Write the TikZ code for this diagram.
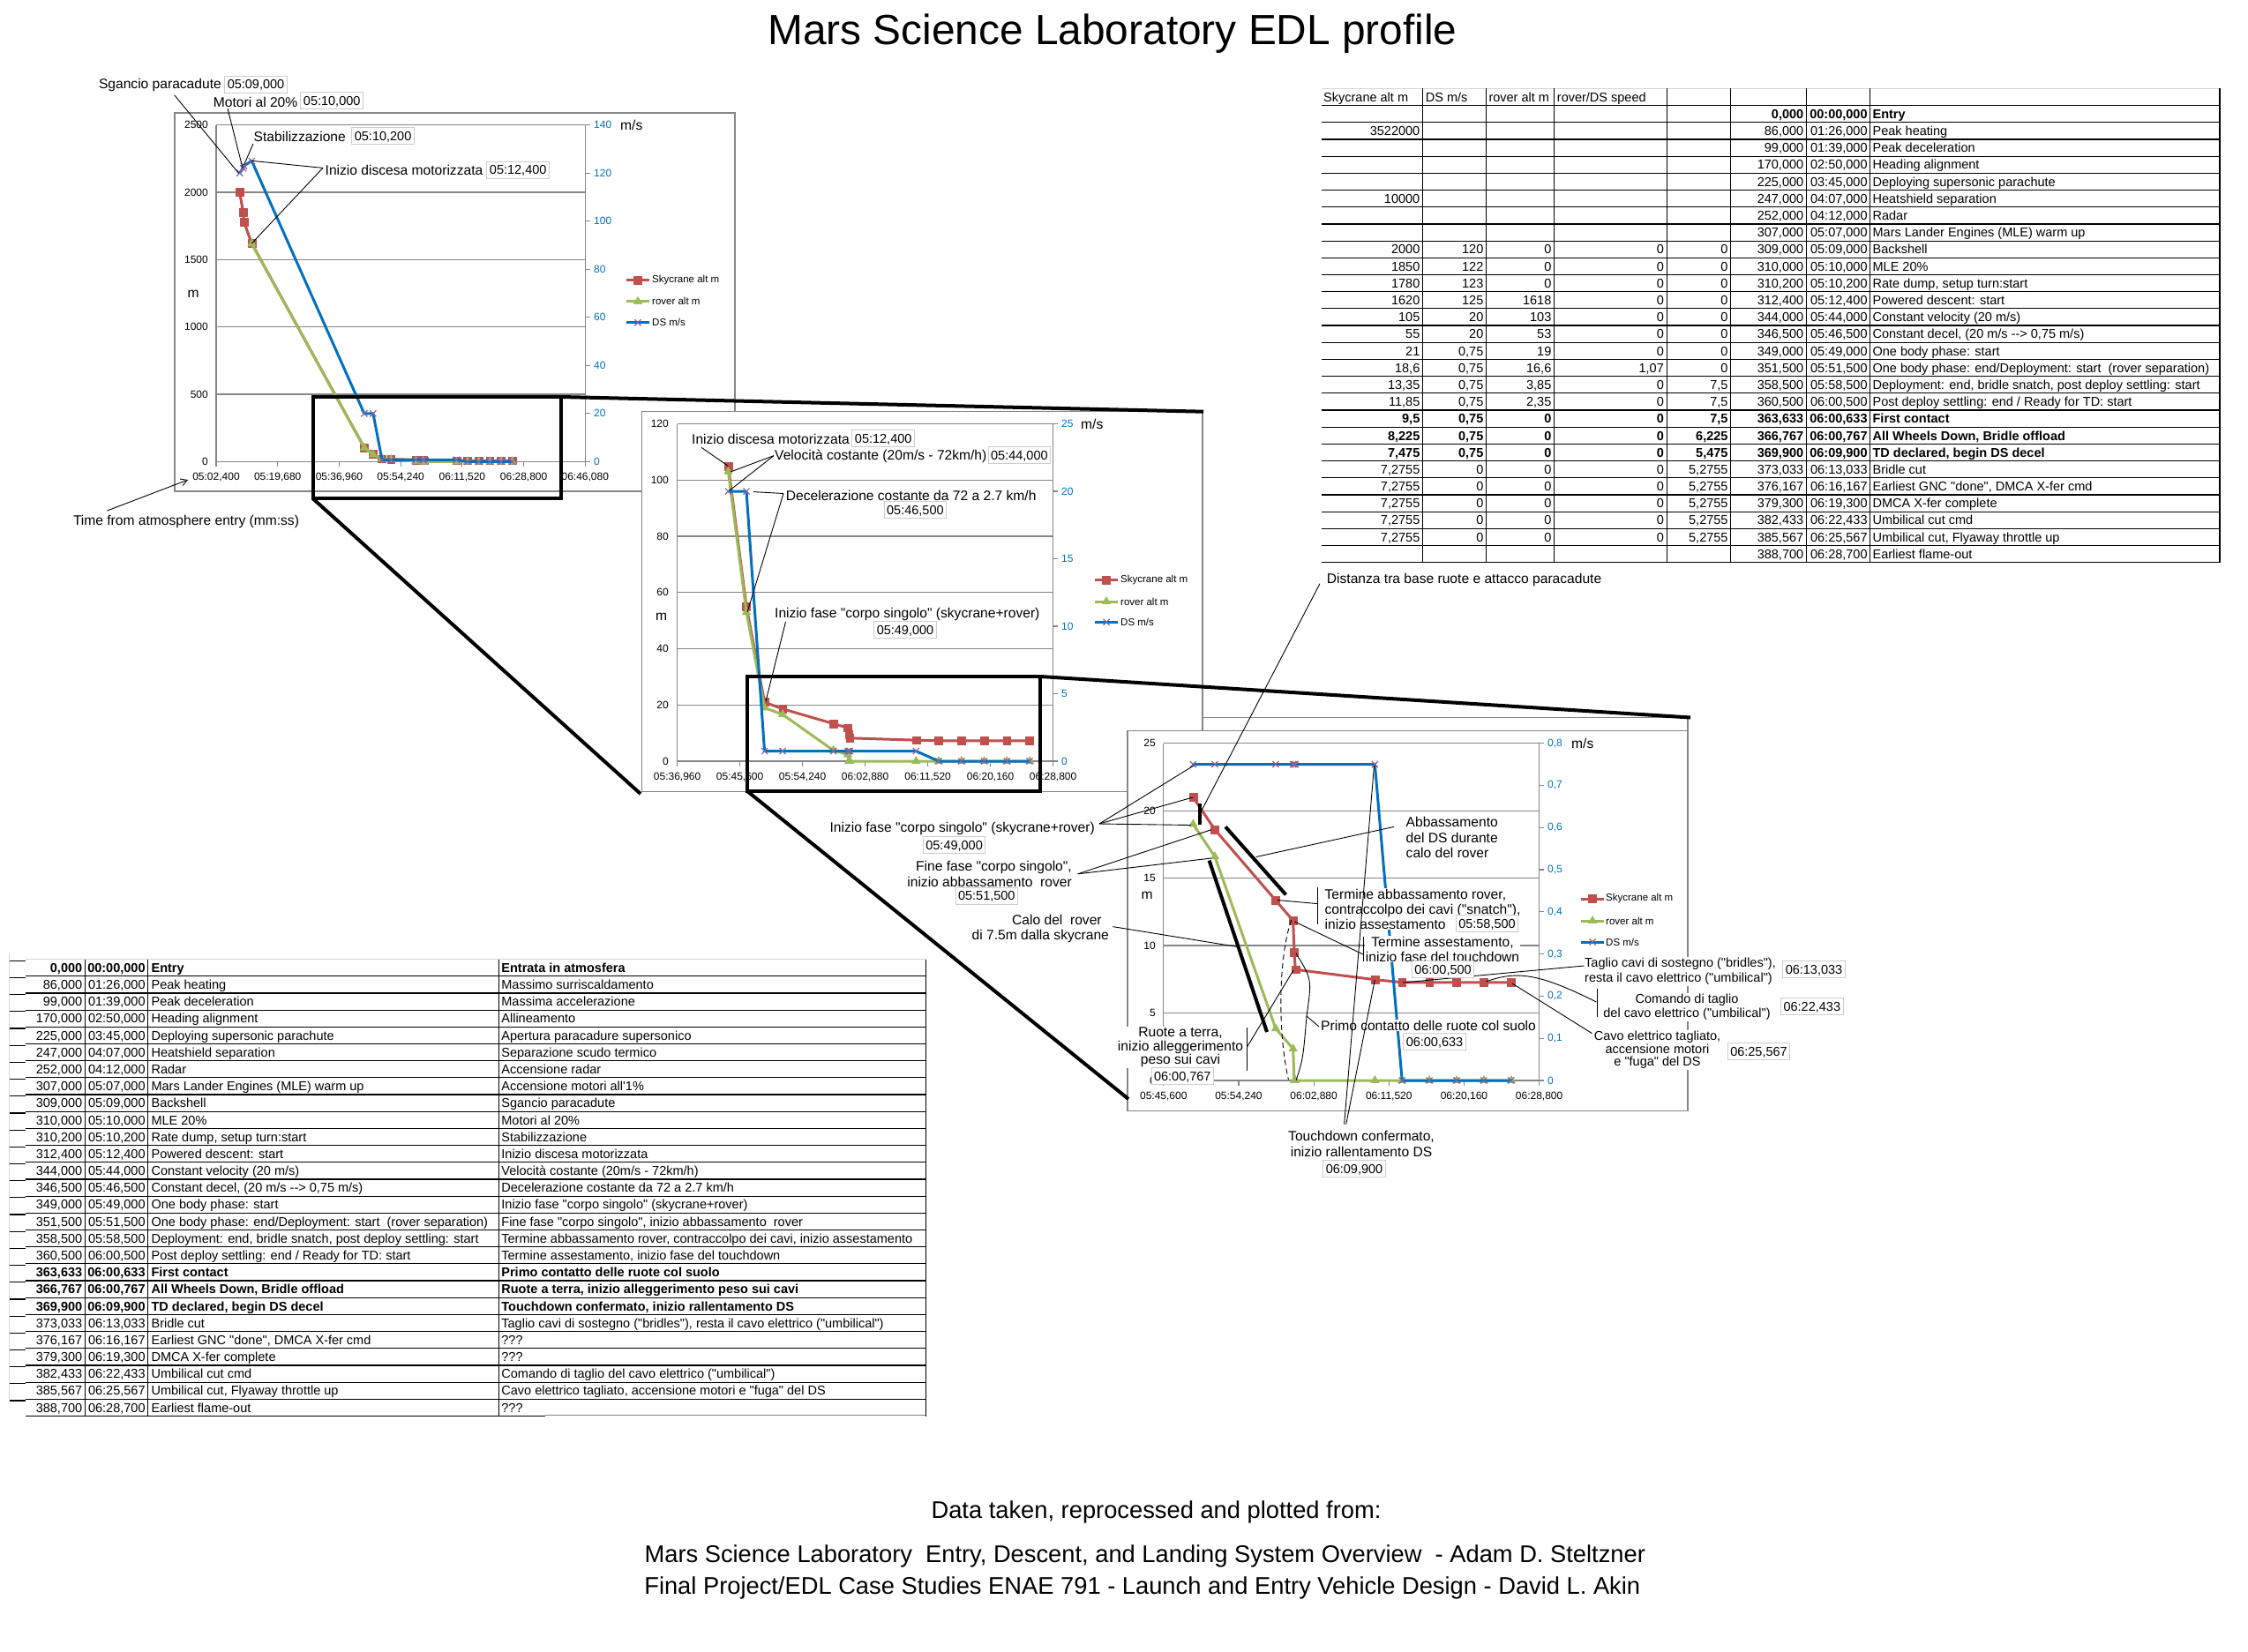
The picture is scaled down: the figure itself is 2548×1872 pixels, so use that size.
\documentclass[tikz,border=0pt]{standalone}
\usepackage{fontspec}
\newfontfamily\arial{Liberation Sans}
\usetikzlibrary{plotmarks,arrows.meta}
\definecolor{skyred}{RGB}{192,80,77}
\definecolor{rovgreen}{RGB}{155,187,89}
\definecolor{dsblue}{RGB}{0,112,192}
\definecolor{dspurple}{RGB}{128,100,162}
\definecolor{gridgray}{RGB}{134,134,134}
\definecolor{boxgray}{RGB}{205,205,205}
\definecolor{topgray}{RGB}{215,215,215}
\newcommand\Tone[9]{%
 \pgfmathsetmacro\tyy{100.4+#1*19.19+14.8}%
 \node[tn,anchor=base east] at (1609.5,\tyy) {#2};%
 \node[tn,anchor=base east] at (1681.5,\tyy) {#3};%
 \node[tn,anchor=base east] at (1758.5,\tyy) {#4};%
 \node[tn,anchor=base east] at (1886,\tyy) {#5};%
 \node[tn,anchor=base east] at (1958.7,\tyy) {#6};%
 \node[tn,anchor=base east] at (2044.4,\tyy) {#7};%
 \node[tn,anchor=base east] at (2116.8,\tyy) {#8};%
 \node[tn,anchor=base west] at (2122.4,\tyy) {#9};%
}
\newcommand\Ttwo[5]{%
 \pgfmathsetmacro\tyy{1087.6+#1*19.18+14.8}%
 \node[tn,anchor=base east] at (93.4,\tyy) {#2};%
 \node[tn,anchor=base east] at (164.8,\tyy) {#3};%
 \node[tn,anchor=base west] at (171.4,\tyy) {#4};%
 \node[tn,anchor=base west] at (568.2,\tyy) {#5};%
}
\begin{document}
\begin{tikzpicture}[x=1pt,y=-1pt,
 tn/.style={font=\arial\fontsize{14.5}{17}\selectfont,inner sep=0pt},
 tk/.style={font=\arial\fontsize{12}{14}\selectfont,inner sep=0pt},
 tkb/.style={tk,text=dsblue},
 lg/.style={font=\arial\fontsize{11.5}{13}\selectfont,inner sep=0pt,anchor=west},
 an/.style={font=\arial\fontsize{15.6}{17}\selectfont,inner sep=1pt,fill=white},
 anr/.style={font=\arial\fontsize{14.5}{17}\selectfont,inner sep=1pt,fill=white},
 axl/.style={font=\arial\fontsize{15.6}{17}\selectfont,inner sep=0pt},
 tb/.style={font=\arial\fontsize{14.5}{16}\selectfont,draw=boxgray,fill=white,line width=1pt,inner xsep=3pt,inner ysep=2pt,text height=12.7pt,text depth=2.3pt},
 gline/.style={draw=gridgray,line width=1.2pt},
 tline/.style={draw=black,line width=1.2pt},
 lead/.style={draw=black,line width=0.9pt},
 thk/.style={draw=black,line width=4pt},
 skyL/.style={draw=skyred,line width=3pt,line join=round},
 skyM/.style={mark=square*,mark size=4.4pt,mark options={solid,draw=skyred,fill=skyred,line width=0.4pt}},
 rovL/.style={draw=rovgreen,line width=3pt,line join=round},
 rovM/.style={mark=triangle*,mark size=5.5pt,mark options={solid,draw=rovgreen,fill=rovgreen,line width=0.4pt}},
 dsL/.style={draw=dsblue,line width=3pt,line join=round},
 dsM/.style={mark=x,mark size=5pt,mark options={solid,draw=dspurple,line width=1.2pt}}
]
\useasboundingbox (0,0) rectangle (2548,1872);
\fill[white] (0,0) rectangle (2548,1872);

% ---------------- title ----------------
\node[font=\arial\fontsize{47.8}{50}\selectfont,inner sep=0pt,anchor=base] at (1261,50) {Mars Science Laboratory EDL profile};

% ---------------- top right table ----------------
\draw[draw=topgray,line width=1.2pt] (1498,100.4) -- (2516,100.4);
\foreach \k in {1,...,28} \draw[tline] (1498,{100.4+\k*19.19}) -- (2516,{100.4+\k*19.19});
\foreach \xx in {1612.7,1684.3,1761.7,1889.3,1961.7,2047.4,2119.4,2516} \draw[tline] (\xx,100.4) -- (\xx,637.7);
\node[tn,anchor=base west] at (1500,115.2) {Skycrane alt m};
\node[tn,anchor=base west] at (1615.7,115.2) {DS m/s};
\node[tn,anchor=base west] at (1687.3,115.2) {rover alt m};
\node[tn,anchor=base west] at (1764.7,115.2) {rover/DS speed};
\Tone{1}{}{}{}{}{}{\bfseries 0,000}{\bfseries 00:00,000}{\bfseries Entry}
\Tone{2}{3522000}{}{}{}{}{86,000}{01:26,000}{Peak heating}
\Tone{3}{}{}{}{}{}{99,000}{01:39,000}{Peak deceleration}
\Tone{4}{}{}{}{}{}{170,000}{02:50,000}{Heading alignment}
\Tone{5}{}{}{}{}{}{225,000}{03:45,000}{Deploying supersonic parachute}
\Tone{6}{10000}{}{}{}{}{247,000}{04:07,000}{Heatshield separation}
\Tone{7}{}{}{}{}{}{252,000}{04:12,000}{Radar}
\Tone{8}{}{}{}{}{}{307,000}{05:07,000}{Mars Lander Engines (MLE) warm up}
\Tone{9}{2000}{120}{0}{0}{0}{309,000}{05:09,000}{Backshell}
\Tone{10}{1850}{122}{0}{0}{0}{310,000}{05:10,000}{MLE 20\%}
\Tone{11}{1780}{123}{0}{0}{0}{310,200}{05:10,200}{Rate dump, setup turn:start}
\Tone{12}{1620}{125}{1618}{0}{0}{312,400}{05:12,400}{Powered descent: start}
\Tone{13}{105}{20}{103}{0}{0}{344,000}{05:44,000}{Constant velocity (20 m/s)}
\Tone{14}{55}{20}{53}{0}{0}{346,500}{05:46,500}{Constant decel, (20 m/s --> 0,75 m/s)}
\Tone{15}{21}{0,75}{19}{0}{0}{349,000}{05:49,000}{One body phase: start}
\Tone{16}{18,6}{0,75}{16,6}{1,07}{0}{351,500}{05:51,500}{One body phase: end/Deployment: start\ \ (rover separation)}
\Tone{17}{13,35}{0,75}{3,85}{0}{7,5}{358,500}{05:58,500}{Deployment: end, bridle snatch, post deploy settling: start}
\Tone{18}{11,85}{0,75}{2,35}{0}{7,5}{360,500}{06:00,500}{Post deploy settling: end / Ready for TD: start}
\Tone{19}{\bfseries 9,5}{\bfseries 0,75}{\bfseries 0}{\bfseries 0}{\bfseries 7,5}{\bfseries 363,633}{\bfseries 06:00,633}{\bfseries First contact}
\Tone{20}{\bfseries 8,225}{\bfseries 0,75}{\bfseries 0}{\bfseries 0}{\bfseries 6,225}{\bfseries 366,767}{\bfseries 06:00,767}{\bfseries All Wheels Down, Bridle offload}
\Tone{21}{\bfseries 7,475}{\bfseries 0,75}{\bfseries 0}{\bfseries 0}{\bfseries 5,475}{\bfseries 369,900}{\bfseries 06:09,900}{\bfseries TD declared, begin DS decel}
\Tone{22}{7,2755}{0}{0}{0}{5,2755}{373,033}{06:13,033}{Bridle cut}
\Tone{23}{7,2755}{0}{0}{0}{5,2755}{376,167}{06:16,167}{Earliest GNC "done", DMCA X-fer cmd}
\Tone{24}{7,2755}{0}{0}{0}{5,2755}{379,300}{06:19,300}{DMCA X-fer complete}
\Tone{25}{7,2755}{0}{0}{0}{5,2755}{382,433}{06:22,433}{Umbilical cut cmd}
\Tone{26}{7,2755}{0}{0}{0}{5,2755}{385,567}{06:25,567}{Umbilical cut, Flyaway throttle up}
\Tone{27}{}{}{}{}{}{388,700}{06:28,700}{Earliest flame-out}

% ---------------- bottom left table ----------------
\draw[draw=topgray,line width=1.2pt] (28.6,1087.6) -- (1049.8,1087.6);
\draw[draw=topgray,line width=1.2pt] (10.7,1080) -- (10.7,1588);
\foreach \k in {1,...,26} \draw[tline] (28.6,{1087.6+\k*19.18}) -- (1049.8,{1087.6+\k*19.18});
\foreach \k in {0,...,26} \draw[tline] (10.7,{1089.3+\k*19.18}) -- (28.6,{1089.3+\k*19.18});
\draw[tline] (28.6,1605.5) -- (618,1605.5);
\draw[draw=gridgray,line width=1pt] (618,1604.5) -- (1049.8,1604.5);
\foreach \xx in {96.4,167.8,565.8,1049.8} \draw[tline] (\xx,1087.6) -- (\xx,1605.5);
\Ttwo{0}{\bfseries 0,000}{\bfseries 00:00,000}{\bfseries Entry}{\bfseries Entrata in atmosfera}
\Ttwo{1}{86,000}{01:26,000}{Peak heating}{Massimo surriscaldamento}
\Ttwo{2}{99,000}{01:39,000}{Peak deceleration}{Massima accelerazione}
\Ttwo{3}{170,000}{02:50,000}{Heading alignment}{Allineamento}
\Ttwo{4}{225,000}{03:45,000}{Deploying supersonic parachute}{Apertura paracadure supersonico}
\Ttwo{5}{247,000}{04:07,000}{Heatshield separation}{Separazione scudo termico}
\Ttwo{6}{252,000}{04:12,000}{Radar}{Accensione radar}
\Ttwo{7}{307,000}{05:07,000}{Mars Lander Engines (MLE) warm up}{Accensione motori all'1\%}
\Ttwo{8}{309,000}{05:09,000}{Backshell}{Sgancio paracadute}
\Ttwo{9}{310,000}{05:10,000}{MLE 20\%}{Motori al 20\%}
\Ttwo{10}{310,200}{05:10,200}{Rate dump, setup turn:start}{Stabilizzazione}
\Ttwo{11}{312,400}{05:12,400}{Powered descent: start}{Inizio discesa motorizzata}
\Ttwo{12}{344,000}{05:44,000}{Constant velocity (20 m/s)}{Velocità costante (20m/s - 72km/h)}
\Ttwo{13}{346,500}{05:46,500}{Constant decel, (20 m/s --> 0,75 m/s)}{Decelerazione costante da 72 a 2.7 km/h}
\Ttwo{14}{349,000}{05:49,000}{One body phase: start}{Inizio fase "corpo singolo" (skycrane+rover)}
\Ttwo{15}{351,500}{05:51,500}{One body phase: end/Deployment: start\ \ (rover separation)}{Fine fase "corpo singolo", inizio abbassamento\ \ rover}
\Ttwo{16}{358,500}{05:58,500}{Deployment: end, bridle snatch, post deploy settling: start}{Termine abbassamento rover, contraccolpo dei cavi, inizio assestamento}
\Ttwo{17}{360,500}{06:00,500}{Post deploy settling: end / Ready for TD: start}{Termine assestamento, inizio fase del touchdown}
\Ttwo{18}{\bfseries 363,633}{\bfseries 06:00,633}{\bfseries First contact}{\bfseries Primo contatto delle ruote col suolo}
\Ttwo{19}{\bfseries 366,767}{\bfseries 06:00,767}{\bfseries All Wheels Down, Bridle offload}{\bfseries Ruote a terra, inizio alleggerimento peso sui cavi}
\Ttwo{20}{\bfseries 369,900}{\bfseries 06:09,900}{\bfseries TD declared, begin DS decel}{\bfseries Touchdown confermato, inizio rallentamento DS}
\Ttwo{21}{373,033}{06:13,033}{Bridle cut}{Taglio cavi di sostegno ("bridles"), resta il cavo elettrico ("umbilical")}
\Ttwo{22}{376,167}{06:16,167}{Earliest GNC "done", DMCA X-fer cmd}{???}
\Ttwo{23}{379,300}{06:19,300}{DMCA X-fer complete}{???}
\Ttwo{24}{382,433}{06:22,433}{Umbilical cut cmd}{Comando di taglio del cavo elettrico ("umbilical")}
\Ttwo{25}{385,567}{06:25,567}{Umbilical cut, Flyaway throttle up}{Cavo elettrico tagliato, accensione motori e "fuga" del DS}
\Ttwo{26}{388,700}{06:28,700}{Earliest flame-out}{???}

% ================= CHART A =================
\filldraw[fill=white,draw=gridgray,line width=1.2pt] (198,128) rectangle (833,557);
\foreach \v in {0,500,1000,1500,2000,2500} {
 \draw[gline] (245,{523.4-\v*0.15272}) -- (663.3,{523.4-\v*0.15272});
 \node[tk,anchor=east] at (236,{523.4-\v*0.15272}) {\v};
}
\draw[gline] (245,141.6) -- (245,523.4);
\draw[gline] (663.3,141.6) -- (663.3,523.4);
\foreach \v in {0,20,...,140} {
 \draw[gline] (663.3,{523.4-\v*2.7271}) -- (669,{523.4-\v*2.7271});
 \node[tkb,anchor=west] at (673,{523.4-\v*2.7271}) {\v};
}
\foreach \k in {0,...,6} \draw[gline] ({245+\k*69.72},523.4) -- ({245+\k*69.72},529);
\node[tk] at (245,540.6) {05:02,400};
\node[tk] at (314.72,540.6) {05:19,680};
\node[tk] at (384.44,540.6) {05:36,960};
\node[tk] at (454.16,540.6) {05:54,240};
\node[tk] at (523.88,540.6) {06:11,520};
\node[tk] at (593.6,540.6) {06:28,800};
\node[tk] at (663.32,540.6) {06:46,080};
\node[axl] at (219,333) {m};
\node[axl,anchor=west] at (703,142) {m/s};
\draw[skyL,skyM,mark indices={2}] plot coordinates {(710,317.7) (723,317.7) (736,317.7)};
\node[lg] at (739,317.7) {Skycrane alt m};
\draw[rovL,rovM,mark indices={2}] plot coordinates {(710,341.8) (723,341.8) (736,341.8)};
\node[lg] at (739,341.8) {rover alt m};
\draw[dsL,dsM,mark indices={2}] plot coordinates {(710,365.8) (723,365.8) (736,365.8)};
\node[lg] at (739,365.8) {DS m/s};
\begin{scope}[xshift=-975.06pt,yshift=-523.4pt,x=4.0346pt,y=0.15272pt]
\draw[skyL,skyM] plot coordinates {(309,2000) (310,1850) (310.2,1780) (312.4,1620) (344,105) (346.5,55) (349,21) (351.5,18.6) (358.5,13.35) (360.5,11.85) (360.633,9.5) (360.767,8.225) (369.9,7.475) (373.033,7.2755) (376.167,7.2755) (379.3,7.2755) (382.433,7.2755) (385.567,7.2755)};
\draw[rovL,rovM] plot coordinates {(312.4,1618) (344,103) (346.5,53) (349,19) (351.5,16.6) (358.5,3.85) (360.5,2.35) (360.633,0) (360.767,0) (369.9,0) (373.033,0) (376.167,0) (379.3,0) (382.433,0) (385.567,0)};
\end{scope}
\begin{scope}[xshift=-975.06pt,yshift=-523.4pt,x=4.0346pt,y=2.7271pt]
\draw[dsL,dsM] plot coordinates {(309,120) (310,122) (310.2,123) (312.4,125) (344,20) (346.5,20) (349,0.75) (351.5,0.75) (358.5,0.75) (360.5,0.75) (360.633,0.75) (360.767,0.75) (369.9,0.75) (373.033,0) (376.167,0) (379.3,0) (382.433,0) (385.567,0)};
\end{scope}
% annotations A
\node[an,anchor=east] at (252,96.8) {Sgancio paracadute};
\node[tb] at (290,95.7) {05:09,000};
\node[an,anchor=east] at (338.5,115.7) {Motori al 20\%};
\node[tb] at (376.2,113.9) {05:10,000};
\node[an,anchor=east] at (393,155) {Stabilizzazione};
\node[tb] at (434.1,154.1) {05:10,200};
\node[an,anchor=east] at (548.5,193) {Inizio discesa motorizzata};
\node[tb] at (587.2,192.5) {05:12,400};
\draw[lead] (197.7,107.8) -- (270.6,196.5);
\draw[lead] (258,123) -- (275,190.5);
\draw[lead] (287,163) -- (276.5,187);
\draw[lead] (366,190.4) -- (285.3,182.3);
\draw[lead] (366,190.4) -- (285.3,276);
\node[axl] at (211,591) {Time from atmosphere entry (mm:ss)};
\draw[lead,-{Straight Barb[length=7pt,width=8pt]}] (121.2,579.1) -- (213,544);
\draw[thk] (354.8,450) rectangle (636.3,565.4);

% ================= CHART B =================
\filldraw[fill=white,draw=gridgray,line width=1.2pt] (727.6,466.7) rectangle (1362.9,897.3);
\foreach \v in {0,20,...,120} {
 \draw[gline] (767.6,{863-\v*3.1867}) -- (1193.6,{863-\v*3.1867});
 \node[tk,anchor=east] at (758,{863-\v*3.1867}) {\v};
}
\draw[gline] (767.6,480.6) -- (767.6,863);
\draw[gline] (1193.6,480.6) -- (1193.6,863);
\foreach \v in {0,5,...,25} {
 \draw[gline] (1193.6,{863-\v*15.296}) -- (1199,{863-\v*15.296});
 \node[tkb,anchor=west] at (1203,{863-\v*15.296}) {\v};
}
\foreach \k in {0,...,6} \draw[gline] ({767.6+\k*71},863) -- ({767.6+\k*71},868.5);
\node[tk] at (767.6,880.6) {05:36,960};
\node[tk] at (838.6,880.6) {05:45,600};
\node[tk] at (909.6,880.6) {05:54,240};
\node[tk] at (980.6,880.6) {06:02,880};
\node[tk] at (1051.6,880.6) {06:11,520};
\node[tk] at (1122.6,880.6) {06:20,160};
\node[tk] at (1193.6,880.6) {06:28,800};
\node[axl] at (749.5,699) {m};
\node[axl,anchor=west] at (1225,481) {m/s};
\draw[skyL,skyM,mark indices={2}] plot coordinates {(1241,657.5) (1254,657.5) (1267,657.5)};
\node[lg] at (1270,657.5) {Skycrane alt m};
\draw[rovL,rovM,mark indices={2}] plot coordinates {(1241,682) (1254,682) (1267,682)};
\node[lg] at (1270,682) {rover alt m};
\draw[dsL,dsM,mark indices={2}] plot coordinates {(1241,705.4) (1254,705.4) (1267,705.4)};
\node[lg] at (1270,705.4) {DS m/s};
\begin{scope}[xshift=-2001.4pt,yshift=-863pt,x=8.2176pt,y=3.1867pt]
\draw[skyL,skyM] plot coordinates {(344,105) (346.5,55) (349,21) (351.5,18.6) (358.5,13.35) (360.5,11.85) (360.633,9.5) (360.767,8.225) (369.9,7.475) (373.033,7.2755) (376.167,7.2755) (379.3,7.2755) (382.433,7.2755) (385.567,7.2755)};
\draw[rovL,rovM] plot coordinates {(344,103) (346.5,53) (349,19) (351.5,16.6) (358.5,3.85) (360.5,2.35) (360.633,0) (360.767,0) (369.9,0) (373.033,0) (376.167,0) (379.3,0) (382.433,0) (385.567,0)};
\end{scope}
\begin{scope}[xshift=-2001.4pt,yshift=-863pt,x=8.2176pt,y=15.296pt]
\draw[dsL,dsM] plot coordinates {(344,20) (346.5,20) (349,0.75) (351.5,0.75) (358.5,0.75) (360.5,0.75) (360.633,0.75) (360.767,0.75) (369.9,0.75) (373.033,0) (376.167,0) (379.3,0) (382.433,0) (385.567,0)};
\end{scope}
% annotations B
\node[an,anchor=west] at (783,497.6) {Inizio discesa motorizzata};
\node[tb] at (1001.2,496.8) {05:12,400};
\node[an,anchor=west] at (877,517.6) {Velocità costante (20m/s - 72km/h)};
\node[tb] at (1155.4,515.8) {05:44,000};
\node[an,anchor=west] at (889.7,561.6) {Decelerazione costante da 72 a 2.7 km/h};
\node[tb] at (1037.4,578) {05:46,500};
\node[an,anchor=west] at (877,696.4) {Inizio fase "corpo singolo" (skycrane+rover)};
\node[tb] at (1026,714.2) {05:49,000};
\draw[lead] (795,507.3) -- (825.4,528.4);
\draw[lead] (877,516.6) -- (828,535);
\draw[lead] (877,516.6) -- (827,556);
\draw[lead] (888,559.5) -- (854,557.6);
\draw[lead] (888,559.5) -- (847,694);
\draw[lead] (890.5,705) -- (868,795);
\draw[thk] (847,767) rectangle (1179,897);

% ================= CHART C =================
\filldraw[fill=white,draw=gridgray,line width=1.2pt] (1278,828.5) rectangle (1913,1259.5);
\draw[gline] (1363,813.5) -- (1913,813.5) -- (1913,828.5);
\foreach \v in {0,5,...,25} {
 \draw[gline] (1318.8,{1225-\v*15.292}) -- (1744.6,{1225-\v*15.292});
 \node[tk,anchor=east] at (1310,{1225-\v*15.292}) {\v};
}
\draw[gline] (1318.8,842.7) -- (1318.8,1225);
\draw[gline] (1744.6,842.7) -- (1744.6,1225);
\foreach \i in {0,...,8} \draw[gline] (1744.6,{1225-\i*47.79}) -- (1750,{1225-\i*47.79});
\node[tkb,anchor=west] at (1754,1225) {0};
\foreach \i in {1,...,8} \node[tkb,anchor=west] at (1754,{1225-\i*47.79}) {0,\i};
\foreach \k in {0,...,5} \draw[gline] ({1318.8+\k*85.16},1225) -- ({1318.8+\k*85.16},1230.5);
\node[tk] at (1318.8,1242.6) {05:45,600};
\node[tk] at (1403.96,1242.6) {05:54,240};
\node[tk] at (1489.12,1242.6) {06:02,880};
\node[tk] at (1574.28,1242.6) {06:11,520};
\node[tk] at (1659.44,1242.6) {06:20,160};
\node[tk] at (1744.6,1242.6) {06:28,800};
\node[axl] at (1300,1015) {m};
\node[axl,anchor=west] at (1781,843) {m/s};
\draw[skyL,skyM,mark indices={2}] plot coordinates {(1791.6,1019) (1805,1019) (1818,1019)};
\node[lg] at (1820,1019) {Skycrane alt m};
\draw[rovL,rovM,mark indices={2}] plot coordinates {(1791.6,1044) (1805,1044) (1818,1044)};
\node[lg] at (1820,1044) {rover alt m};
\draw[dsL,dsM,mark indices={2}] plot coordinates {(1791.6,1068) (1805,1068) (1818,1068)};
\node[lg] at (1820,1068) {DS m/s};
\begin{scope}[xshift=-2087.61pt,yshift=-1225pt,x=9.8565pt,y=15.292pt]
\draw[skyL,skyM] plot coordinates {(349,21) (351.5,18.6) (358.5,13.35) (360.5,11.85) (360.633,9.5) (360.767,8.225) (369.9,7.475) (373.033,7.2755) (376.167,7.2755) (379.3,7.2755) (382.433,7.2755) (385.567,7.2755)};
\draw[rovL,rovM] plot coordinates {(349,19) (351.5,16.6) (358.5,3.85) (360.5,2.35) (360.633,0) (360.767,0) (369.9,0) (373.033,0) (376.167,0) (379.3,0) (382.433,0) (385.567,0)};
\end{scope}
\begin{scope}[xshift=-2087.61pt,yshift=-1225pt,x=9.8565pt,y=477.9pt]
\draw[dsL,dsM] plot coordinates {(349,0.75) (351.5,0.75) (358.5,0.75) (360.5,0.75) (360.633,0.75) (360.767,0.75) (369.9,0.75) (373.033,0) (376.167,0) (379.3,0) (382.433,0) (385.567,0)};
\end{scope}
% annotation texts C
\node[an,anchor=east] at (1242,939.4) {Inizio fase "corpo singolo" (skycrane+rover)};
\node[an,anchor=east,align=right,font=\arial\fontsize{15.6}{18.6}\selectfont] at (1216,990.9) {Fine fase "corpo singolo",\\inizio abbassamento\ \ rover};
\node[an,anchor=west] at (1146,1043) {Calo del\ \ rover};
\node[an,anchor=west] at (1100.5,1061.4) {di 7.5m dalla skycrane};
\node[an,align=center,font=\arial\fontsize{15.6}{15.6}\selectfont] at (1338,1187.3) {Ruote a terra,\\inizio alleggerimento\\peso sui cavi};
\node[an,anchor=west,align=left,font=\arial\fontsize{15.6}{16.9}\selectfont] at (1500.4,1030.6) {Termine abbassamento rover,\\contraccolpo dei cavi ("snatch"),\\inizio assestamento};
\node[an,align=center,font=\arial\fontsize{15.6}{16.7}\selectfont] at (1635,1076.4) {Termine assestamento,\\inizio fase del touchdown};
\node[an,anchor=west] at (1496,1162.5) {Primo contatto delle ruote col suolo};
\node[an,align=center,font=\arial\fontsize{15.6}{18}\selectfont] at (1543,1297) {Touchdown confermato,\\inizio rallentamento DS};
\node[an,anchor=west,align=left,font=\arial\fontsize{15.6}{17.9}\selectfont] at (1592.5,949.5) {Abbassamento\\del DS durante\\calo del rover};
\node[anr,anchor=west,align=left,font=\arial\fontsize{14.5}{17}\selectfont] at (1795,1101.5) {Taglio cavi di sostegno ("bridles"),\\resta il cavo elettrico ("umbilical")};
\node[anr,align=center,font=\arial\fontsize{14.5}{16.3}\selectfont] at (1912,1141.9) {Comando di taglio\\del cavo elettrico ("umbilical")};
\node[anr,align=center,font=\arial\fontsize{14.5}{14.4}\selectfont] at (1878.5,1190.4) {Cavo elettrico tagliato,\\accensione motori\\e "fuga" del DS};
\node[an,anchor=west] at (1502.7,657) {Distanza tra base ruote e attacco paracadute};
% leaders and marks C
\draw[lead] (1246,934) -- (1353,868);
\draw[lead] (1246,934) -- (1352,904);
\draw[lead] (1246,934) -- (1350,935.5);
\draw[lead] (1221.7,990.8) -- (1373,940.7);
\draw[lead] (1221.7,990.8) -- (1373,973);
\draw[lead] (1261.3,1050.6) -- (1403.5,1073.6);
\draw[thk] (1360.4,911) -- (1360.4,935);
\draw[thk] (1389,937.4) -- (1457.5,1014.4);
\draw[thk] (1370.6,975.6) -- (1436,1170);
\draw[lead,dashed,dash pattern=on 6pt off 4pt] (1463.7,1043) .. controls (1449,1085) and (1448,1170) .. (1460.4,1224);
\draw[lead] (1495,1164) -- (1481,1152);
\draw[lead] (1481,1152) .. controls (1487,1110) .. (1469,1081);
\draw[lead] (1481,1152) .. controls (1477,1200) .. (1469,1225);
\draw[lead] (1413.5,1165) -- (1413.5,1214);
\draw[lead] (1413.5,1187) -- (1466,1100);
\draw[lead] (1493,1006) -- (1493,1048);
\draw[lead] (1493,1024.6) -- (1448,1020.5);
\draw[lead] (1545,1062) -- (1545,1090);
\draw[lead] (1545,1082) -- (1467.5,1045);
\draw[lead] (1523.6,1274.7) -- (1557.5,868);
\draw[lead] (1525.7,1274.7) -- (1558.3,1111);
\draw[lead] (1580,937.4) -- (1423.7,971.5);
\draw[lead] (1795.3,1095) -- (1590,1114);
\draw[lead] (1810,1121) -- (1810,1153);
\draw[lead] (1809.4,1136) .. controls (1745,1104) and (1720,1100) .. (1684,1113);
\draw[lead] (1804.5,1171.6) -- (1714,1115);
\draw[lead] (1496,661.7) -- (1358,926.5);
% time boxes C
\node[tb] at (1081.6,958) {05:49,000};
\node[tb] at (1118.3,1015.5) {05:51,500};
\node[tb] at (1340.3,1219.8) {06:00,767};
\node[tb] at (1685.5,1046.8) {05:58,500};
\node[tb] at (1635.5,1099) {06:00,500};
\node[tb] at (1626,1180.8) {06:00,633};
\node[tb] at (1535,1325) {06:09,900};
\node[tb] at (2056,1098.8) {06:13,033};
\node[tb] at (2053.8,1140.9) {06:22,433};
\node[tb] at (1993.5,1192) {06:25,567};

% ================= zoom connectors =================
\draw[thk] (636.3,450) -- (1364,466.7);
\draw[thk] (354.8,565.4) -- (726,900);
\draw[thk] (1179,767) -- (1916,813.5);
\draw[thk] (847,897) -- (1279,1246);

% ================= sources =================
\node[font=\arial\fontsize{27.3}{30}\selectfont,inner sep=0pt,anchor=base] at (1310.5,1721) {Data taken, reprocessed and plotted from:};
\node[font=\arial\fontsize{27.3}{30}\selectfont,inner sep=0pt,anchor=base] at (1297.8,1771) {Mars Science Laboratory\ \ Entry, Descent, and Landing System Overview\ \ - Adam D. Steltzner};
\node[font=\arial\fontsize{27.3}{30}\selectfont,inner sep=0pt,anchor=base] at (1294.8,1807.5) {Final Project/EDL Case Studies ENAE 791 - Launch and Entry Vehicle Design - David L. Akin};
\end{tikzpicture}
\end{document}
